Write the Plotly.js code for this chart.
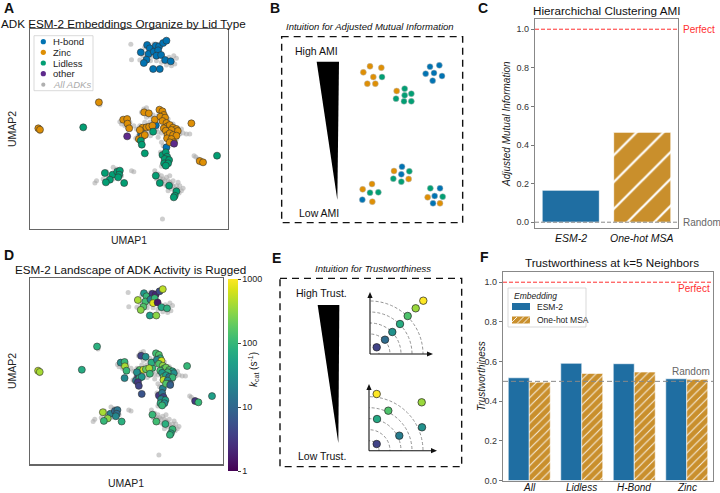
<!DOCTYPE html>
<html><head><meta charset="utf-8">
<script src="https://cdn.plot.ly/plotly-3.0.1.min.js"></script>
<style>html,body{margin:0;padding:0;background:#fff}#chart{width:720px;height:493px}</style>
</head><body><div id="chart"></div>
<script>
// ---------- DATA: panel A / D (UMAP coordinates) ----------
const hbondX=[35.2,36.0,37.8,38.8,40.0,41.0,33.3,35.6,37.2,38.5,38.0,39.4,35.0,34.2,40.6,42.3,37.0,39.0,37.8,33.4,41.0];
const hbondY=[55.2,54.2,55.0,54.8,55.8,56.5,53.0,52.5,53.2,53.6,52.0,52.2,50.8,49.8,50.7,50.3,48.0,48.0,31.1,28.4,24.5];
const hbondKcat=[40,100,3,2,5,500,400,120,20,100,700,1.5,150,300,60,80,50,300,100,3,20];

const zincX=[20.7,2.5,3.0,28.0,29.2,29.3,29.8,34.3,35.7,37.5,38.9,39.8,40.2,39.2,40.6,39.8,41.0,41.3,42.0,43.0,44.0,44.4,42.5,40.2,40.8,33.8,35.0,35.8,36.8,33.0,32.7,33.8,34.5,41.3,42.0,43.0,44.0,41.2,42.5,43.2,42.0,48.5,51.0,52.0];
const zincY=[38.0,30.2,29.8,32.8,33.0,31.6,30.2,35.0,34.7,32.8,35.8,35.3,34.2,33.7,33.4,32.4,31.8,30.8,31.2,30.4,30.0,29.4,29.7,30.2,29.5,30.4,30.5,30.7,31.0,29.7,27.0,27.8,28.2,28.2,28.7,28.2,28.0,27.2,27.0,26.0,26.0,31.7,20.4,20.0];
const zincKcat=[80,500,400,30,100,400,100,4,30,80,120,150,80,25,600,150,300,100,200,150,60,30,100,120,40,150,600,200,400,30,15,80,40,200,50,15,100,500,30,12,150,100,3,100];

const lidlessX=[16.0,37.0,33.3,33.6,34.5,39.8,40.8,41.2,40.5,41.8,40.3,41.5,40.8,56.2,22.5,24.8,26.2,27.0,26.8,26.5,24.0,22.8,28.3,37.8,39.0,41.8,44.0,43.5,43.2];
const lidlessY=[30.5,29.2,26.5,25.3,22.7,22.2,23.0,21.7,21.0,20.7,19.7,19.7,19.0,22.0,16.8,16.3,17.2,17.5,16.3,15.5,14.8,14.0,13.8,16.0,13.8,13.0,11.3,10.0,9.5];
const lidlessKcat=[70,100,3,4,6,3,15,4,25,50,80,30,100,50,400,20,10,15,12,25,300,100,80,100,120,80,100,60,90];

const otherX=[29.2,43.3];
const otherY=[27.8,25.6];
const otherKcat=[25,8];

const allX=[30.3,30.5,34.0,36.2,36.8,33.0,42.0,43.2,44.0,42.5,41.8,39.5,38.0,36.0,37.2,34.5,43.5,41.0,
 3.0,21.0,
 34.2,35.0,33.5,36.2,37.0,27.5,28.5,30.0,31.2,32.0,33.0,34.5,36.0,38.0,38.5,39.5,43.0,45.5,47.0,48.0,45.0,46.0,44.0,39.5,40.0,38.5,35.5,36.2,32.5,31.8,34.5,38.5,41.5,37.8,27.0,35.0,
 50.5,49.8,51.5,49.3,
 40.0,40.5,39.5,39.2,
 25.0,26.0,23.0,23.5,22.0,20.0,19.5,25.0,24.0,25.8,30.5,31.2,27.5,
 37.5,38.5,39.5,40.0,40.5,41.0,41.5,42.0,42.5,43.0,44.0,44.5,45.5,46.0,43.5,42.5,41.0,40.0,39.5,42.0,43.0,44.5,45.0,38.0,39.0,41.5,44.8,
 39.8];
const allY=[55.4,50.8,52.0,50.5,51.8,50.7,50.3,52.0,51.2,49.0,51.5,50.0,50.5,53.8,55.5,54.5,49.5,49.2,
 29.2,37.2,
 36.0,36.4,35.0,33.8,34.2,31.5,31.0,32.0,31.0,30.0,31.0,32.0,32.0,30.0,29.0,28.8,31.5,30.0,28.5,28.5,28.5,28.8,27.0,26.0,25.0,27.5,29.0,28.0,28.0,27.2,29.5,34.0,33.0,31.5,32.2,33.5,
 21.0,21.6,19.8,22.0,
 20.5,19.5,18.8,23.0,
 18.5,18.0,17.2,15.5,15.0,14.5,13.8,15.0,16.0,17.0,17.5,17.2,16.0,
 17.5,16.5,16.0,15.0,14.5,15.5,14.5,14.0,13.5,13.0,13.0,12.0,11.5,12.2,12.0,12.0,13.0,13.5,14.5,16.0,14.5,14.0,13.0,15.0,15.2,11.5,10.8,
 3.0];

const legendALabels=['H-bond','Zinc','Lidless','other','All ADKs'];
const kcatTicks=[1,10,100,1000];

// ---------- DATA: panel C ----------
const amiMethods=['ESM-2','One-hot MSA'];
const amiValues=[0.166,0.466];

// ---------- DATA: panel F ----------
const trustGroups=['All','Lidless','H-Bond','Zinc'];
const trustESM=[0.518,0.591,0.589,0.513];
const trustOneHot=[0.496,0.540,0.547,0.510];
const embedNames=['ESM-2','One-hot MSA'];

// ---------- DATA: panel B illustration (dot clusters) ----------
const bOrangeX=[390,370,400,424,382,406,470,462,506,396,368,397,563,600];
const bOrangeY=[199,217,231,203,251,251,273,513,537,552,568,605,592,610];
const bGreenX=[426,494,468,494,514,492,514,508,460,484,390,415,571,608];
const bGreenY=[231,266,296,286,281,304,304,514,536,545,578,577,565,590];
const bBlueX=[570,598,557,582,606,578,486,484,367,600,584,579];
const bBlueY=[200,196,221,219,228,242,500,523,599,565,588,610];

// ---------- DATA: panel E illustration ----------
const eTopX=[6.7,15,22.3,30,37.7,45.7,53.3];
const eTopY=[6.7,14.3,22,30,38,45.7,53.3];
const eTopC=[0.2,0.35,0.5,0.62,0.72,0.85,1.0];
const eBotX=[7.7,19.3,8,52.7,30.3,53,7.7];
const eBotY=[56.7,40,31.7,48.4,15,23.4,6.7];
const eBotC=[1.0,0.72,0.6,0.85,0.42,0.5,0.2];
const eTopRadii=[9,20,31,42,53];
const eBotRadii=[10,21,32,43,54];

// ---------- helpers ----------
const W=720,H=493;
const fx=p=>p/W, fy=p=>1-p/H;
const FONT='"Liberation Sans", Arial, Helvetica, sans-serif';
const C_H='#0173b2', C_Z='#de8f05', C_L='#029e73', C_O='#5e2a8c';
const GRAY='rgba(165,165,165,0.55)';
const BAR_B='#1f6ea2', BAR_O='#c98f2c';

const traces=[];
const edge={width:0.6,color:'#333'};
// Panel A
traces.push({type:'scatter',mode:'markers',xaxis:'x',yaxis:'y',x:allX,y:allY,marker:{size:5,color:GRAY},hoverinfo:'skip'});
[[hbondX,hbondY,C_H],[zincX,zincY,C_Z],[lidlessX,lidlessY,C_L],[otherX,otherY,C_O]].forEach(([x,y,c])=>{
  traces.push({type:'scatter',mode:'markers',xaxis:'x',yaxis:'y',x:x,y:y,marker:{size:7,color:c,line:edge}});
});
// Panel D
traces.push({type:'scatter',mode:'markers',xaxis:'x2',yaxis:'y2',x:allX,y:allY,marker:{size:5,color:GRAY},hoverinfo:'skip'});
const dX=hbondX.concat(zincX,lidlessX,otherX);
const dY=hbondY.concat(zincY,lidlessY,otherY);
const dK=hbondKcat.concat(zincKcat,lidlessKcat,otherKcat);
traces.push({type:'scatter',mode:'markers',xaxis:'x2',yaxis:'y2',x:dX,y:dY,
  marker:{size:7,color:dK.map(v=>Math.log10(v)),colorscale:'Viridis',cmin:0,cmax:3,line:edge,showscale:true,
    colorbar:{x:fx(228),xanchor:'left',xpad:0,ypad:0,y:fy(471),yanchor:'bottom',len:(471-279)/H,lenmode:'fraction',
      thickness:10,outlinewidth:0,tickmode:'array',tickvals:kcatTicks.map(v=>Math.log10(v)),ticktext:kcatTicks.map(String),
      ticks:'outside',ticklen:3,tickfont:{size:9,color:'#222',family:FONT}}}});
// Panel C (two bars sharing one offset group)
traces.push({type:'bar',xaxis:'x3',yaxis:'y3',x:[amiMethods[0]],y:[amiValues[0]],width:0.8,offsetgroup:'c',
  marker:{color:BAR_B,line:{color:'white',width:0.8}}});
traces.push({type:'bar',xaxis:'x3',yaxis:'y3',x:[amiMethods[1]],y:[amiValues[1]],width:0.8,offsetgroup:'c',
  marker:{color:BAR_O,line:{color:'white',width:0.8},pattern:{shape:'/',fgcolor:'white',bgcolor:BAR_O,size:19,solidity:0.12}}});
// Panel F
traces.push({type:'bar',name:embedNames[0],xaxis:'x4',yaxis:'y4',x:trustGroups,y:trustESM,offsetgroup:'a',
  marker:{color:BAR_B,line:{color:'white',width:0.6}}});
traces.push({type:'bar',name:embedNames[1],xaxis:'x4',yaxis:'y4',x:trustGroups,y:trustOneHot,offsetgroup:'b',
  marker:{color:BAR_O,line:{color:'white',width:0.6},pattern:{shape:'/',fgcolor:'rgba(255,255,255,0.85)',bgcolor:BAR_O,size:6,solidity:0.18}}});
// Panel B dots
const bEdge={width:0.5,color:'#bbb'};
[[bOrangeX,bOrangeY,C_Z],[bGreenX,bGreenY,C_L],[bBlueX,bBlueY,C_H]].forEach(([x,y,c])=>{
  traces.push({type:'scatter',mode:'markers',xaxis:'x5',yaxis:'y5',x:x,y:y,marker:{size:6,color:c,line:bEdge},cliponaxis:false});
});
// Panel E dots
traces.push({type:'scatter',mode:'markers',xaxis:'x7',yaxis:'y7',x:eTopX,y:eTopY,cliponaxis:false,
  marker:{size:7.5,color:eTopC,colorscale:'Viridis',cmin:0,cmax:1,line:{width:0.7,color:'#222'}}});
traces.push({type:'scatter',mode:'markers',xaxis:'x8',yaxis:'y8',x:eBotX,y:eBotY,cliponaxis:false,
  marker:{size:7.5,color:eBotC,colorscale:'Viridis',cmin:0,cmax:1,line:{width:0.7,color:'#222'}}});

// ---------- axes ----------
const frame={showticklabels:false,ticks:'',showgrid:false,zeroline:false,showline:true,mirror:true,linecolor:'#666',linewidth:1.2,fixedrange:true};
const hidden={visible:false,showgrid:false,zeroline:false,fixedrange:true};
const tfont={size:9,color:'#333',family:FONT};
const layout={
  width:W,height:H,margin:{l:0,r:0,t:0,b:0},paper_bgcolor:'white',plot_bgcolor:'rgba(0,0,0,0)',
  showlegend:false,font:{family:FONT,color:'#222'},barmode:'group',bargap:0.2,bargroupgap:0,
  xaxis:Object.assign({},frame,{domain:[fx(30),fx(228)],range:[0,59.5],anchor:'y'}),
  yaxis:Object.assign({},frame,{domain:[fy(229),fy(29)],range:[0,60],anchor:'x'}),
  xaxis2:Object.assign({},frame,{domain:[fx(30),fx(222.7)],range:[0,59.5],anchor:'y2'}),
  yaxis2:Object.assign({},frame,{domain:[fy(464.3),fy(278.3)],range:[0,60],anchor:'x2'}),
  xaxis3:{domain:[fx(535),fx(678)],anchor:'y3',type:'category',range:[-0.5,1.5],showticklabels:false,ticks:'',
    showline:true,mirror:true,linecolor:'#888',linewidth:1.2,showgrid:false,zeroline:false,fixedrange:true},
  yaxis3:{domain:[fy(228),fy(19)],anchor:'x3',range:[-0.03,1.053],tickmode:'array',tickvals:[0,0.2,0.4,0.6,0.8,1.0],
    tickformat:'.1f',ticks:'outside',ticklen:3,tickcolor:'#777',tickfont:tfont,
    showline:true,mirror:true,linecolor:'#888',linewidth:1.2,showgrid:false,zeroline:false,fixedrange:true},
  xaxis4:{domain:[fx(503),fx(713)],anchor:'y4',type:'category',range:[-0.5,3.5],showticklabels:false,ticks:'',
    showline:true,mirror:true,linecolor:'#888',linewidth:1.2,showgrid:false,zeroline:false,fixedrange:true},
  yaxis4:{domain:[fy(480.5),fy(271.7)],anchor:'x4',range:[0,1.053],tickmode:'array',tickvals:[0,0.2,0.4,0.6,0.8,1.0],
    tickformat:'.1f',ticks:'outside',ticklen:3,tickcolor:'#777',tickfont:tfont,
    showline:true,mirror:true,linecolor:'#888',linewidth:1.2,showgrid:false,zeroline:false,fixedrange:true},
  xaxis5:Object.assign({},hidden,{domain:[fx(240),fx(480)],range:[0,720],anchor:'y5'}),
  yaxis5:Object.assign({},hidden,{domain:[fy(245),1],range:[735,0],anchor:'x5'}),
  xaxis6:Object.assign({},hidden,{domain:[fx(270),fx(480)],range:[0,630],anchor:'y6'}),
  yaxis6:Object.assign({},hidden,{domain:[0,fy(245)],range:[744,0],anchor:'x6'}),
  xaxis7:Object.assign({},hidden,{domain:[fx(370),fx(432)],range:[0,62],anchor:'y7'}),
  yaxis7:Object.assign({},hidden,{domain:[fy(354),fy(293)],range:[0,61],anchor:'x7'}),
  xaxis8:Object.assign({},hidden,{domain:[fx(369),fx(436)],range:[0,67],anchor:'y8'}),
  yaxis8:Object.assign({},hidden,{domain:[fy(450.7),fy(385)],range:[0,65.7],anchor:'x8'})
};

// ---------- shapes ----------
const shapes=[];
shapes.push({type:'line',xref:'x3 domain',yref:'y3',x0:0,x1:1,y0:1,y1:1,line:{color:'#ff3030',width:1,dash:'4px,2px'}});
shapes.push({type:'line',xref:'x3 domain',yref:'y3',x0:0,x1:1,y0:0,y1:0,line:{color:'#888',width:1,dash:'4px,2px'}});
shapes.push({type:'line',xref:'x4 domain',yref:'y4',x0:0,x1:1,y0:1,y1:1,line:{color:'#ff3030',width:1,dash:'4px,2px'}});
shapes.push({type:'line',xref:'x4 domain',yref:'y4',x0:0,x1:1,y0:0.5,y1:0.5,line:{color:'#888',width:1,dash:'5px,3px'}});
// legend A
shapes.push({type:'rect',xref:'paper',yref:'paper',x0:fx(34),x1:fx(93),y0:fy(90.7),y1:fy(35.7),line:{color:'#cfcfcf',width:0.8},fillcolor:'rgba(255,255,255,0.85)'});
const legAY=[41.7,52.3,63,73.7,84.7];
const legACol=[C_H,C_Z,C_L,C_O,'#b0b0b0'];
legAY.forEach((yy,i)=>{
  const r=i<4?2.6:2.1;
  shapes.push({type:'circle',xref:'paper',yref:'paper',xsizemode:'pixel',ysizemode:'pixel',xanchor:fx(43.3),yanchor:fy(yy),
    x0:-r,x1:r,y0:-r,y1:r,fillcolor:legACol[i],line:{width:0}});
});
// legend F
shapes.push({type:'rect',xref:'paper',yref:'paper',x0:fx(508),x1:fx(586),y0:fy(327),y1:fy(288),line:{color:'#cfcfcf',width:0.8},fillcolor:'rgba(255,255,255,0.9)'});
shapes.push({type:'rect',xref:'paper',yref:'paper',x0:fx(512),x1:fx(530),y0:fy(310),y1:fy(303),line:{width:0},fillcolor:BAR_B});
shapes.push({type:'rect',xref:'paper',yref:'paper',x0:fx(512),x1:fx(530),y0:fy(323.5),y1:fy(316.5),line:{width:0},fillcolor:BAR_O});
[[512,322,517,317],[517,323.5,524,316.5],[523,323.5,530,316.5],[529,323.5,530,322.5]].forEach(([a,b,c,d])=>{
  shapes.push({type:'line',xref:'paper',yref:'paper',x0:fx(a),y0:fy(b),x1:fx(c),y1:fy(d),line:{color:'rgba(255,255,255,0.85)',width:1}});
});
// Panel B
shapes.push({type:'rect',xref:'x5',yref:'y5',x0:125,x1:668,y0:110,y1:668,line:{color:'#111',width:1.4,dash:'7px,5px'}});
shapes.push({type:'path',xref:'x5',yref:'y5',path:'M230,185 L297,185 L292,600 Z',fillcolor:'#000',line:{width:0}});
// Panel E
shapes.push({type:'rect',xref:'x6',yref:'y6',x0:30,x1:575,y0:100,y1:665,line:{color:'#111',width:1.4,dash:'7px,5px'}});
shapes.push({type:'path',xref:'x6',yref:'y6',path:'M143,180 L208,180 L205,595 Z',fillcolor:'#000',line:{width:0}});
eTopRadii.forEach(r=>shapes.push({type:'circle',layer:'below',xref:'x7',yref:'y7',x0:-r,x1:r,y0:-r,y1:r,line:{color:'#888',width:0.9,dash:'3px,2px'}}));
eBotRadii.forEach(r=>shapes.push({type:'circle',layer:'below',xref:'x8',yref:'y8',x0:-r,x1:r,y0:-r,y1:r,line:{color:'#888',width:0.9,dash:'3px,2px'}}));
// mini-axes with arrowheads (paper coords)
const P=(x,y)=>fx(x)+','+fy(y);
[[370,354,433,292],[369,450.7,437,384]].forEach(([ox,oy,tx,ty])=>{
  shapes.push({type:'line',xref:'paper',yref:'paper',x0:fx(ox),y0:fy(oy),x1:fx(tx-4),y1:fy(oy),line:{color:'#111',width:1.1}});
  shapes.push({type:'line',xref:'paper',yref:'paper',x0:fx(ox),y0:fy(oy),x1:fx(ox),y1:fy(ty+4),line:{color:'#111',width:1.1}});
  shapes.push({type:'path',xref:'paper',yref:'paper',path:'M'+P(tx,oy)+' L'+P(tx-6,oy-2.6)+' L'+P(tx-6,oy+2.6)+' Z',fillcolor:'#111',line:{width:0}});
  shapes.push({type:'path',xref:'paper',yref:'paper',path:'M'+P(ox,ty)+' L'+P(ox-2.6,ty+6)+' L'+P(ox+2.6,ty+6)+' Z',fillcolor:'#111',line:{width:0}});
});
layout.shapes=shapes;

// ---------- annotations ----------
const ann=[];
const txt=(x,y,t,o)=>ann.push(Object.assign({xref:'paper',yref:'paper',x:fx(x),y:fy(y),text:t,showarrow:false,
  xanchor:'center',yanchor:'middle',font:{family:FONT,size:11,color:'#222'}},o||{}));
[['A',2,8],['B',268,8],['C',476,8],['D',2,255],['E',270,258],['F',478,257]].forEach(([l,x,y])=>
  txt(x,y,'<b>'+l+'</b>',{xanchor:'left',font:{family:FONT,size:14,color:'#111'}}));
txt(123,23,'ADK ESM-2 Embeddings Organize by Lid Type',{font:{family:FONT,size:11.7,color:'#111'}});
txt(130,269,'ESM-2 Landscape of ADK Activity is Rugged',{font:{family:FONT,size:11.7,color:'#111'}});
txt(606,11,'Hierarchichal Clustering AMI',{font:{family:FONT,size:11.7,color:'#111'}});
txt(612,262,'Trustworthiness at k=5 Neighbors',{font:{family:FONT,size:11.7,color:'#111'}});
txt(370,26,'<i>Intuition for Adjusted Mutual Information</i>',{font:{family:FONT,size:9.5,color:'#111'}});
txt(373,268,'<i>Intuition for Trustworthiness</i>',{font:{family:FONT,size:9.5,color:'#111'}});
txt(129,240,'UMAP1',{font:{family:FONT,size:10.5,color:'#222'}});
txt(12,129,'UMAP2',{textangle:-90,font:{family:FONT,size:10.5,color:'#222'}});
txt(126,483,'UMAP1',{font:{family:FONT,size:10.5,color:'#222'}});
txt(12,371,'UMAP2',{textangle:-90,font:{family:FONT,size:10.5,color:'#222'}});
txt(507,124,'<i>Adjusted Mutual Information</i>',{textangle:-90,font:{family:FONT,size:10,color:'#222'}});
txt(481,376,'<i>Trustworthiness</i>',{textangle:-90,font:{family:FONT,size:10,color:'#222'}});
txt(253,369,'<i>k</i><sub>cat</sub> (s<sup>-1</sup>)',{textangle:-90,font:{family:FONT,size:10,color:'#222'}});
txt(681,29.5,'Perfect',{xanchor:'left',font:{family:FONT,size:10,color:'#ff3030'}});
txt(681,222.5,'Random',{xanchor:'left',font:{family:FONT,size:10,color:'#666'}});
txt(712,288,'Perfect',{xanchor:'right',font:{family:FONT,size:10,color:'#ff3030'}});
txt(712,371,'Random',{xanchor:'right',font:{family:FONT,size:10,color:'#666'}});
legendALabels.forEach((l,i)=>txt(51,legAY[i],i<4?l:'<i>'+l+'</i>',{xanchor:'left',font:{family:FONT,size:9.5,color:i<4?'#222':'#aaa'}}));
txt(512,295.5,'<i>Embedding</i>',{xanchor:'left',font:{family:FONT,size:8.5,color:'#222'}});
txt(535,306.5,embedNames[0],{xanchor:'left',font:{family:FONT,size:8.5,color:'#222'}});
txt(535,320,embedNames[1],{xanchor:'left',font:{family:FONT,size:8.5,color:'#222'}});
amiMethods.forEach(m=>ann.push({xref:'x3',yref:'paper',x:m,y:fy(237.5),text:'<i>'+m+'</i>',showarrow:false,
  xanchor:'center',yanchor:'middle',font:{family:FONT,size:10.5,color:'#111'}}));
trustGroups.forEach(g=>ann.push({xref:'x4',yref:'paper',x:g,y:fy(487),text:'<i>'+g+'</i>',showarrow:false,
  xanchor:'center',yanchor:'middle',font:{family:FONT,size:10,color:'#111'}}));
ann.push({xref:'x5',yref:'y5',x:230,y:152,text:'High AMI',showarrow:false,font:{family:FONT,size:10.5,color:'#111'}});
ann.push({xref:'x5',yref:'y5',x:238,y:638,text:'Low AMI',showarrow:false,font:{family:FONT,size:10.5,color:'#111'}});
ann.push({xref:'x6',yref:'y6',x:155,y:145,text:'High Trust.',showarrow:false,font:{family:FONT,size:10.5,color:'#111'}});
ann.push({xref:'x6',yref:'y6',x:155,y:632,text:'Low Trust.',showarrow:false,font:{family:FONT,size:10.5,color:'#111'}});
layout.annotations=ann;

Plotly.newPlot('chart',traces,layout,{staticPlot:true,displayModeBar:false});
</script></body></html>
